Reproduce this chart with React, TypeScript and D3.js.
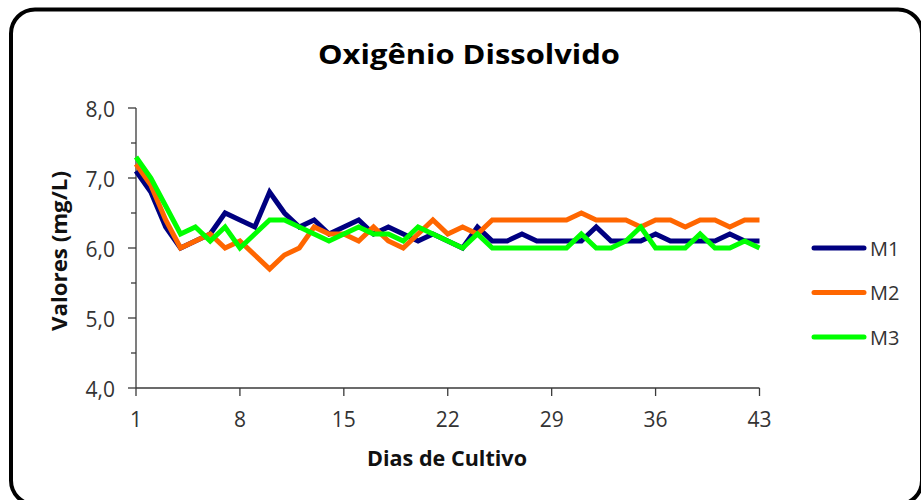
import React from "react";
import * as d3 from "d3";

const days: number[] = Array.from({ length: 43 }, (_, i) => i + 1);

const m1: number[] = [
  7.1, 6.8, 6.3, 6.0, 6.1, 6.2, 6.5, 6.4, 6.3, 6.8,
  6.5, 6.3, 6.4, 6.2, 6.3, 6.4, 6.2, 6.3, 6.2, 6.1,
  6.2, 6.1, 6.0, 6.3, 6.1, 6.1, 6.2, 6.1, 6.1, 6.1,
  6.1, 6.3, 6.1, 6.1, 6.1, 6.2, 6.1, 6.1, 6.1, 6.1,
  6.2, 6.1, 6.1,
];
const m2: number[] = [
  7.2, 6.9, 6.4, 6.0, 6.1, 6.2, 6.0, 6.1, 5.9, 5.7,
  5.9, 6.0, 6.3, 6.2, 6.2, 6.1, 6.3, 6.1, 6.0, 6.2,
  6.4, 6.2, 6.3, 6.2, 6.4, 6.4, 6.4, 6.4, 6.4, 6.4,
  6.5, 6.4, 6.4, 6.4, 6.3, 6.4, 6.4, 6.3, 6.4, 6.4,
  6.3, 6.4, 6.4,
];
const m3: number[] = [
  7.3, 7.0, 6.6, 6.2, 6.3, 6.1, 6.3, 6.0, 6.2, 6.4,
  6.4, 6.3, 6.2, 6.1, 6.2, 6.3, 6.2, 6.2, 6.1, 6.3,
  6.2, 6.1, 6.0, 6.2, 6.0, 6.0, 6.0, 6.0, 6.0, 6.0,
  6.2, 6.0, 6.0, 6.1, 6.3, 6.0, 6.0, 6.0, 6.2, 6.0,
  6.0, 6.1, 6.0,
];

const seriesNames: string[] = ["M1", "M2", "M3"];
const seriesColors: string[] = ["#000080", "#FF6600", "#00FF00"];
const xTicks: number[] = [1, 8, 15, 22, 29, 36, 43];
const yTicks: number[] = [4, 5, 6, 7, 8];
const yMinorTicks: number[] = [4.5, 5.5, 6.5, 7.5];

const title = "Oxigênio Dissolvido";
const xTitle = "Dias de Cultivo";
const yTitle = "Valores (mg/L)";

const FONT = "'Open Sans', sans-serif";

export default function App() {
  const x = d3.scaleLinear().domain([1, 43]).range([136, 759.5]);
  const y = d3.scaleLinear().domain([4, 8]).range([388, 108]);
  const line = d3
    .line<number>()
    .x((_, i) => x(days[i]))
    .y((v) => y(v));
  const all = [m1, m2, m3];
  const fmt = (v: number) => d3.format(".1f")(v).replace(".", ",");
  const axisColor = "#3a3a3a";
  const textColor = "#333333";

  return (
    <svg
      width={921}
      height={500}
      style={{ position: "absolute", left: 0, top: 0, background: "#fff" }}
    >
      <rect x={0} y={0} width={921} height={500} fill="#fff" />
      <rect
        x={11}
        y={9.5}
        width={911}
        height={495}
        rx={24}
        ry={24}
        fill="none"
        stroke="#000"
        strokeWidth={4}
      />
      <text
        x={469}
        y={64}
        textAnchor="middle"
        fontFamily={FONT}
        fontWeight="bold"
        fontSize={26}
        textLength={302}
        lengthAdjust="spacingAndGlyphs"
        fill="#000"
      >
        {title}
      </text>

      {/* y axis */}
      <line x1={136} x2={136} y1={y(8)} y2={y(4)} stroke={axisColor} strokeWidth={1.3} />
      {yTicks.map((t) => (
        <g key={"yt" + t}>
          <line x1={128} x2={136} y1={y(t)} y2={y(t)} stroke={axisColor} strokeWidth={1.3} />
          <text
            x={115}
            y={y(t) + 8.5}
            textAnchor="end"
            fontFamily={FONT}
            fontSize={21}
            fill={textColor}
          >
            {fmt(t)}
          </text>
        </g>
      ))}
      {yMinorTicks.map((t) => (
        <line key={"ym" + t} x1={131} x2={136} y1={y(t)} y2={y(t)} stroke={axisColor} strokeWidth={1.3} />
      ))}

      {/* x axis */}
      <line x1={136} x2={x(43)} y1={y(4)} y2={y(4)} stroke={axisColor} strokeWidth={1.3} />
      {xTicks.map((t) => (
        <g key={"xt" + t}>
          <line x1={x(t)} x2={x(t)} y1={y(4)} y2={y(4) + 8} stroke={axisColor} strokeWidth={1.3} />
          <text
            x={x(t)}
            y={426.7}
            textAnchor="middle"
            fontFamily={FONT}
            fontSize={21}
            fill={textColor}
          >
            {t}
          </text>
        </g>
      ))}

      <text
        x={447}
        y={466}
        textAnchor="middle"
        fontFamily={FONT}
        fontWeight="bold"
        fontSize={21}
        textLength={160}
        lengthAdjust="spacingAndGlyphs"
        fill="#111"
      >
        {xTitle}
      </text>
      <text
        transform="translate(66.5,251) rotate(-90)"
        textAnchor="middle"
        fontFamily={FONT}
        fontWeight="bold"
        fontSize={21}
        textLength={160}
        lengthAdjust="spacingAndGlyphs"
        fill="#111"
      >
        {yTitle}
      </text>

      {/* series */}
      {all.map((s, i) => (
        <path
          key={seriesNames[i]}
          d={line(s) || ""}
          fill="none"
          stroke={seriesColors[i]}
          strokeWidth={5}
          strokeLinejoin="miter"
        />
      ))}

      {/* legend */}
      {seriesNames.map((n, i) => (
        <g key={"lg" + n}>
          <line
            x1={814}
            x2={864}
            y1={248 + i * 44.5}
            y2={248 + i * 44.5}
            stroke={seriesColors[i]}
            strokeWidth={5}
            strokeLinecap="round"
          />
          <text
            x={870}
            y={255.5 + i * 44.5}
            fontFamily={FONT}
            fontSize={20}
            fill={textColor}
          >
            {n}
          </text>
        </g>
      ))}
    </svg>
  );
}
